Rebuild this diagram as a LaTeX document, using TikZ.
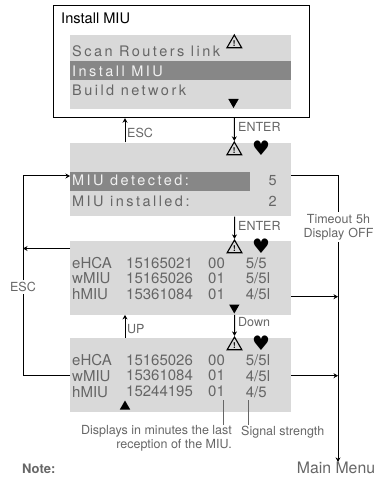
\documentclass[tikz,border=0pt]{standalone}
\usepackage{fontspec}
\usepackage{tikz}
\usetikzlibrary{arrows.meta,positioning,calc,shapes.geometric}
\setmainfont{TeX Gyre Heros}
\newfontfamily\lcdfont[LetterSpace=17]{TeX Gyre Heros}
\newfontfamily\symfont{DejaVu Sans}
\definecolor{panel}{HTML}{D9D9D9}
\definecolor{selected}{HTML}{878787}
\definecolor{inktext}{HTML}{666666}
\tikzset{
  menubox/.style={draw, line width=1.5pt, minimum width=256pt, minimum height=112pt, inner sep=0pt},
  screenbox/.style={fill=panel, minimum width=221pt, minimum height=73.7pt, inner sep=0pt},
  selbar/.style={fill=selected, minimum height=19pt, inner sep=0pt},
  lcd/.style={font=\lcdfont\fontsize{14.5}{14.5}\selectfont, text=inktext, inner sep=0pt, anchor=west},
  lcdsel/.style={lcd, text=white!88!selected},
  row/.style={font=\fontsize{15}{15}\selectfont, text=inktext, inner sep=0pt, anchor=west},
  lab/.style={font=\fontsize{12.5}{14}\selectfont, text=inktext, inner sep=0pt, align=center},
  warnicon/.style={regular polygon, regular polygon sides=3, draw, line width=1.1pt, fill=panel, minimum size=17pt,
    inner sep=0pt, font=\bfseries\fontsize{8}{8}\selectfont},
  hearticon/.style={font=\symfont\fontsize{20}{20}\selectfont, inner sep=0pt},
  downmark/.style={regular polygon, regular polygon sides=3, shape border rotate=180, fill=black, minimum size=12pt, inner sep=0pt},
  upmark/.style={downmark, shape border rotate=0},
  arr/.style={-{Stealth[length=4.5pt,width=5pt]}, line width=1pt},
  wire/.style={line width=1pt},
  leader/.style={line width=0.9pt, draw=inktext}
}
\begin{document}
\begin{tikzpicture}[x=1pt,y=-1pt]
  \useasboundingbox (0,0) rectangle (382,478);
  % menu frame and the four screens
  \node[menubox, anchor=north west] (menu) at (52.7,4.7) {};
  \node[anchor=west, inner sep=0pt, font=\fontsize{14.6}{14.6}\selectfont] (title) at (61,18) {Install MIU};
  \node[screenbox, anchor=north west] (screenA) at (70,35) {};
  \node[screenbox, below=33.3pt of screenA] (screenB) {};
  \node[screenbox, below=24.3pt of screenB] (screenC) {};
  \node[screenbox, below=23.3pt of screenC] (screenD) {};
  \node[selbar, minimum width=221pt, anchor=north west] (barA) at (70,61) {};
  \node[selbar, minimum width=180pt, anchor=north west] (barB) at (70,172) {};
  % screen texts
  \node[lcd] (scan) at (72,51.5) {Scan Routers link};
  \node[lcdsel] (install) at (72,71) {Install MIU};
  \node[lcd] (build) at (72,90) {Build network};
  \node[lcdsel] (detected) at (72,180.7) {MIU detected:};
  \node[lcd] (installed) at (72,201.7) {MIU installed:};
  \node[lcd, anchor=center] (numB) at (272.7,180.7) {5};
  \node[lcd, anchor=center] (numI) at (272.7,201.7) {2};
  \node[row] (cA) at (72,263.5) {eHCA};
  \node[row] (cAid) at (126,263.5) {15165021};
  \node[row] (cAmin) at (208,263.5) {00};
  \node[row] (cAsig) at (245.7,263.5) {5/5};
  \node[row] (cB) at (72,278.5) {wMIU};
  \node[row] (cBid) at (126,278.5) {15165026};
  \node[row] (cBmin) at (208,278.5) {01};
  \node[row] (cBsig) at (245.7,278.5) {5/5l};
  \node[row] (cC) at (72,294) {hMIU};
  \node[row] (cCid) at (126,294) {15361084};
  \node[row] (cCmin) at (208,294) {01};
  \node[row] (cCsig) at (245.7,294) {4/5l};
  \node[row] (dA) at (72,360.5) {eHCA};
  \node[row] (dAid) at (126,360.5) {15165026};
  \node[row] (dAmin) at (208,360.5) {00};
  \node[row] (dAsig) at (245.7,360.5) {5/5l};
  \node[row] (dB) at (72,375.7) {wMIU};
  \node[row] (dBid) at (126,375.7) {15361084};
  \node[row] (dBmin) at (208,375.7) {01};
  \node[row] (dBsig) at (245.7,375.7) {4/5l};
  \node[row] (dC) at (72,391.7) {hMIU};
  \node[row] (dCid) at (126,391.7) {15244195};
  \node[row] (dCmin) at (208,391.7) {01};
  \node[row] (dCsig) at (245.7,391.7) {4/5};
  % icons
  \node[warnicon] (warnA) at (234.3,43.5) {!};
  \node[warnicon] (warnB) at (234.3,150.5) {!};
  \node[warnicon] (warnC) at (234.5,248.5) {!};
  \node[warnicon] (warnD) at (234.5,345.5) {!};
  \node[hearticon] (heartB) at (261,148) {♥};
  \node[hearticon] (heartC) at (261,246) {♥};
  \node[hearticon] (heartD) at (261,343) {♥};
  \node[downmark] (downA) at (233.5,102) {};
  \node[downmark] (downC) at (234.3,307.5) {};
  \node[upmark] (upD) at (125,406.5) {};
  % labels
  \node[lab, anchor=west] (escA) at (127,133) {ESC};
  \node[lab, anchor=west] (enterA) at (238,127) {ENTER};
  \node[lab, anchor=west] (enterB) at (238,225.5) {ENTER};
  \node[lab, anchor=west] (upL) at (127,329.5) {UP};
  \node[lab, anchor=west] (downL) at (238,322.5) {Down};
  \node[lab, fill=white, inner ysep=2pt] (escL) at (23,287) {ESC};
  \node[lab, fill=white, inner ysep=2pt, text width=70pt] (timeout) at (338.5,227) {Timeout 5h\\Display OFF};
  \node[lab, align=right, anchor=north east] (minutes) at (232,425.5) {Displays in minutes the last\\reception of the MIU.};
  \node[lab, anchor=west] (signal) at (241,432.5) {Signal strength};
  \node[font=\fontsize{15.8}{15.8}\selectfont, text=inktext, inner sep=0pt] (mainmenu) at (336,468) {Main Menu};
  \node[font=\bfseries\fontsize{13}{13}\selectfont, text=inktext, inner sep=0pt, anchor=west] (note) at (22,469) {Note:};
  \coordinate (busB) at (338,176);
  \coordinate (busC) at (338,296.7);
  % connectors
  \draw[arr] (screenB.north -| upD) -- (menu.south -| upD);
  \draw[arr] (menu.south -| warnB) -- (warnB.north);
  \draw[arr] (screenB.south -| warnC) -- (warnC.north);
  \draw[arr] (screenC.south -| warnD) -- (warnD.north);
  \draw[arr] (screenD.north -| upD) -- (screenC.south -| upD);
  \draw[wire] (screenD.west |- dB) -- (escL |- dB) -- (escL.south);
  \draw[arr] (escL.north) -- (escL |- busB) -- (screenB.west |- busB);
  \draw[arr] (screenC.west |- warnC) -- (escL |- warnC);
  \draw[wire] (screenB.east |- busB) -- (busB) -- (timeout.north -| busB);
  \draw[arr] (timeout.south -| busB) -- (mainmenu.north -| busB);
  \draw[arr] (screenC.east |- busC) -- (busC);
  \draw[arr] (screenD.east |- dB) -- (busB |- dB);
  \draw[leader] (223,400) -- (223,425);
  \draw[leader] (248.7,400) -- (248.7,425);
\end{tikzpicture}
\end{document}
